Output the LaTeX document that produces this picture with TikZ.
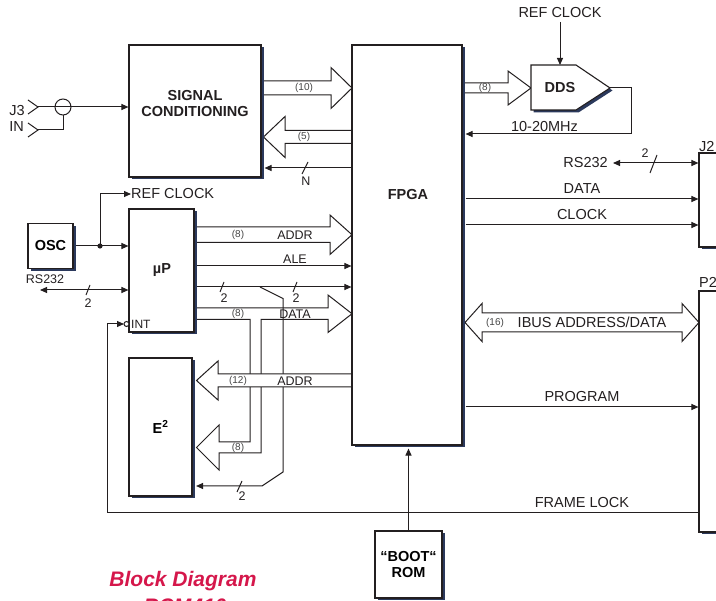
\documentclass[tikz,border=0pt]{standalone}
\usepackage{fontspec}
\setmainfont{Liberation Sans}
\usetikzlibrary{arrows.meta,shadows,calc}
\pgfdeclarelayer{bg}
\pgfsetlayers{bg,main}
\definecolor{shadowc}{RGB}{43,57,92}
\definecolor{titlec}{RGB}{213,23,75}
\definecolor{txt}{RGB}{35,31,32}
\definecolor{smallc}{RGB}{70,70,70}
\newcommand\labf{\fontsize{14.5}{16}\selectfont}
\newcommand\midf{\fontsize{12.5}{14}\selectfont}
\newcommand\smf{\fontsize{10}{12}\selectfont}
\begin{document}
\begin{tikzpicture}[x=1pt,y=-1pt,
  box/.style={draw=txt, line width=1.1pt, fill=white, inner sep=0pt,
    drop shadow={shadow xshift=2.5pt, shadow yshift=-2.5pt, fill=shadowc, opacity=1}},
  ln/.style={line width=1pt, draw=txt},
  arr/.style={ln, -{Triangle[length=7pt,width=6pt]}},
  darr/.style={ln, {Triangle[length=7pt,width=6pt]}-{Triangle[length=7pt,width=6pt]}},
  bus/.style={line width=1pt, draw=txt, fill=white, line join=miter},
  lab/.style={font=\labf, text=txt, inner sep=0pt},
  mlab/.style={font=\midf, text=txt, inner sep=0pt},
  slab/.style={font=\smf, text=smallc, inner sep=0pt},
  blab/.style={font=\labf\bfseries, text=txt, inner sep=0pt, align=center},
  ttl/.style={font=\fontsize{21}{24}\selectfont\bfseries\itshape, text=titlec, inner sep=0pt}
]
\useasboundingbox (0,0) rectangle (716,601);

% ---------- blocks ----------
\node[box, minimum width=132pt, minimum height=132pt] (sc) at (195,111) {};
\node[blab] (sctext) at (195,104) {SIGNAL\\CONDITIONING};
\node[box, minimum width=110pt, minimum height=400pt] (fpga) at (407,245) {};
\node[blab] (fpgatext) at (408,195) {FPGA};
\node[box, minimum width=65pt, minimum height=123pt] (up) at (161.5,270.5) {};
\node[blab] (uptext) at (162,270) {µP};
\node[box, minimum width=45pt, minimum height=45pt, font=\labf\bfseries] (osc) at (50.5,246) {OSC};
\node[box, minimum width=63pt, minimum height=138pt, font=\labf\bfseries] (e2) at (160.5,427) {E\textsuperscript{2}};
\node[box, minimum width=67pt, minimum height=67pt, font=\labf\bfseries, align=center] (rom) at (408.5,564.5) {“BOOT“\\ROM};
\node[box, minimum width=40pt, minimum height=94pt] (j2) at (719,200) {};
\node[box, minimum width=40pt, minimum height=241pt] (p2) at (719,411.5) {};
\node[lab, anchor=west] (j2l) at (699,146.5) {J2};
\node[lab, anchor=west] (p2l) at (699,282) {P2};

% DDS
\fill[shadowc] (533.5,67.5) -- (578.5,67.5) -- (612.5,90.5) -- (578.5,112.5) -- (533.5,112.5) -- cycle;
\draw[line width=1.1pt, draw=txt, fill=white] (531,65) -- (576,65) -- (610,88) -- (576,110) -- (531,110) -- cycle;
\node[blab] (dds) at (560,88) {DDS};
\coordinate (ddstip) at (610,88);
\coordinate (ddstop) at (560,65);

% helper coordinates
\coordinate (scr) at ($(sc.east)+(3,0)$);
\coordinate (fpgar) at ($(fpga.east)+(3,0)$);
\coordinate (e2r) at ($(e2.east)+(3.5,0)$);
\coordinate (fpgab) at ($(fpga.south)+(0,3)$);

% INT bubble
\draw[ln, fill=white] (126.5,324) circle (2.5pt);
\node[font=\fontsize{12}{14}\selectfont, text=txt, inner sep=0pt, anchor=west] (intl) at (131,324) {INT};

% ---------- connectors ----------
\begin{pgfonlayer}{bg}
% J3 / IN
\draw[ln] (28,100) -- (38,107) -- (28,114);
\draw[ln] (28,123) -- (38,130) -- (28,137);
\draw[arr] (38,107) -- (sc.west |- 0,107);
\draw[ln] (38,130) -- (63,130) -- (63,115);
\draw[ln] (63,107) circle (8pt);

% (10) bus SC -> FPGA
\draw[bus] (258,81) -- (331,81) -- (331,67.5) -- (352,88) -- (331,108.5) -- (331,95) -- (258,95);
% (5) bus FPGA -> SC
\draw[bus] (356,130.5) -- (285,130.5) -- (285,116.5) -- (263.5,137) -- (285,157.5) -- (285,143.5) -- (356,143.5);
% N
\draw[arr] (fpga.west |- 0,168) -- (scr |- 0,168);
\draw[ln] (302,174) -- (308,162);

% OSC / REF CLOCK
\draw[arr] (osc.east) -- (up.west |- osc.east);
\fill[txt] (100,246) circle (2.6pt);
\node[lab, anchor=west] (refl) at (131,194) {REF CLOCK};
\draw[arr] (100,246) |- (refl.west);

% RS232 left
\draw[darr] (40,290) -- (up.west |- 0,290);
\draw[ln] (86,295) -- (90,285);

% FRAME LOCK -> INT
\draw[arr] (p2.west |- 0,513) -- (107,513) -- (107,324) -- (124,324);

% ADDR (8) bus uP -> FPGA
\draw[bus] (190,227) -- (330,227) -- (330,215) -- (352,234.75) -- (330,254.5) -- (330,242.5) -- (190,242.5);
% ALE
\draw[arr] (up.east |- 0,266) -- (fpga.west |- 0,266);
% 2 line
\draw[arr] (up.east |- 0,287) -- (fpga.west |- 0,287);
\draw[ln] (220,292) -- (224,282);
\draw[ln] (293,292) -- (297,282);
% DATA bus with branch to E2
\draw[bus] (190,308) -- (328,308) -- (328,295) -- (352,313.75) -- (328,332.5) -- (328,319.5) -- (261,319.5) -- (261,453) -- (219,453) -- (219,470) -- (196.5,447.5) -- (219,425) -- (219,442) -- (250,442) -- (250,319.5) -- (190,319.5);
% 2 branch to E2
\draw[arr] (260,287) -- (283,298.5) -- (283,472) -- (262,486) -- (e2r |- 0,486);
\draw[ln] (237,492) -- (242,481);
% ADDR (12) bus FPGA -> E2
\draw[bus] (356,374) -- (218,374) -- (218,361) -- (196.5,380.5) -- (218,400) -- (218,387) -- (356,387);

% (8) bus FPGA -> DDS
\draw[bus] (458,83) -- (508,83) -- (508,71) -- (531,88) -- (508,105) -- (508,93) -- (458,93);
% REF CLOCK top
\node[lab] (refc) at (560,13) {REF CLOCK};
\draw[arr] ($(refc)+(0,9)$) -- (ddstop);
% 10-20MHz feedback
\draw[arr] (ddstip) -- (631,88) -- (631,134) -- (fpgar |- 0,134);

% RS232 right
\node[lab, anchor=east] (rsr) at (608,163) {RS232};
\draw[darr] (613,163) -- (j2.west |- 0,163);
\draw[ln] (650,173) -- (657,155);
% DATA, CLOCK
\draw[arr] (fpgar |- 0,199) -- (j2.west |- 0,199);
\draw[arr] (fpgar |- 0,225) -- (j2.west |- 0,225);
% IBUS
\draw[bus] (465,322.5) -- (482,303.5) -- (482,313) -- (682,313) -- (682,303.5) -- (699,322.5) -- (682,341.5) -- (682,332) -- (482,332) -- (482,341.5) -- cycle;
% PROGRAM
\draw[arr] (fpgar |- 0,407) -- (p2.west |- 0,407);
% BOOT ROM
\draw[arr] (rom.north) -- (rom.north |- fpgab);
\end{pgfonlayer}

% ---------- labels ----------
\node[lab, anchor=east] (j3l) at (25,111) {J3};
\node[lab, anchor=east] (inl) at (24,127) {IN};
\node[slab] (l10) at (304,88) {(10)};
\node[slab] (l5) at (304,137) {(5)};
\node[mlab] (lN) at (306,181) {N};
\node[mlab] (rsl) at (45,279) {RS232};
\node[mlab] (l2a) at (88,303) {2};
\node[slab] (l8a) at (238,234.5) {(8)};
\node[mlab] (laddr) at (295,235.5) {ADDR};
\node[mlab] (lale) at (295,259.5) {ALE};
\node[mlab] (l2b) at (224,298) {2};
\node[mlab] (l2c) at (296,298) {2};
\node[slab] (l8b) at (238,313.5) {(8)};
\node[mlab] (ldata) at (295,314) {DATA};
\node[slab] (l12) at (238,381) {(12)};
\node[mlab] (laddr2) at (295,381) {ADDR};
\node[slab] (l8c) at (238,448) {(8)};
\node[mlab] (l2d) at (242,496) {2};
\node[slab] (l8d) at (485,88) {(8)};
\node[lab] (lmhz) at (544.5,126.5) {10-20MHz};
\node[mlab] (l2e) at (645,153) {2};
\node[lab] (ldata2) at (582,189) {DATA};
\node[lab] (lclk) at (582,214.5) {CLOCK};
\node[slab] (l16) at (495,322.5) {(16)};
\node[lab] (libus) at (592,322.5) {IBUS ADDRESS/DATA};
\node[lab] (lprog) at (582,397) {PROGRAM};
\node[lab] (lfl) at (582,503) {FRAME LOCK};
\node[ttl] (title) at (183,581) {Block Diagram};
\node[ttl] (title2) at (185,606) {RCM410};
\end{tikzpicture}
\end{document}
